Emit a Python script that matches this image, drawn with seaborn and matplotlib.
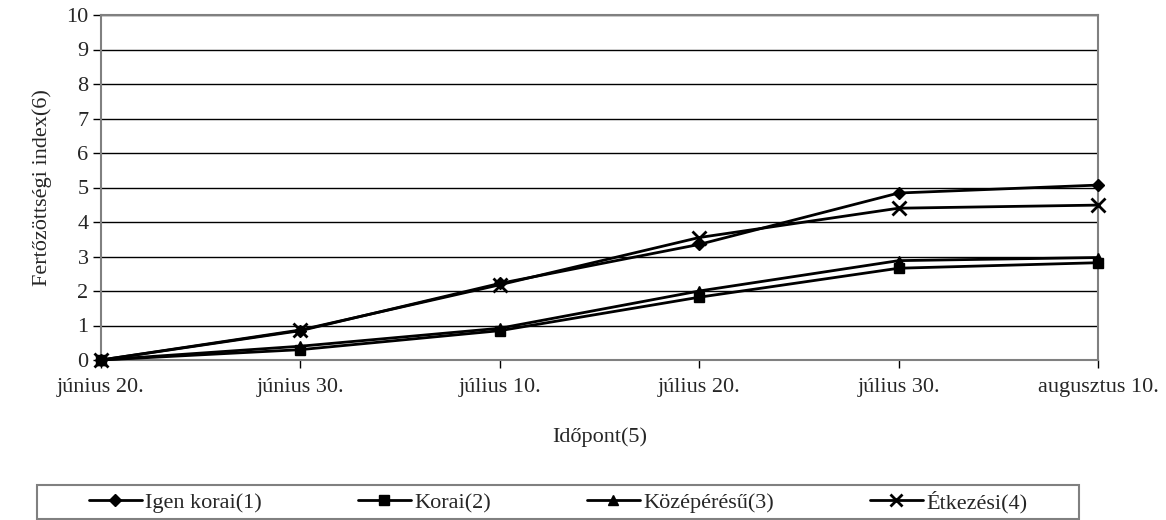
import matplotlib
matplotlib.use("Agg")
import matplotlib.pyplot as plt
from matplotlib.patches import Rectangle
import seaborn as sns
import pandas as pd

# adatok
dates = ["június 20.", "június 30.", "július 10.", "július 20.", "július 30.", "augusztus 10."]
igen_korai = [0, 0.85, 2.22, 3.35, 4.84, 5.07]
korai = [0, 0.30, 0.85, 1.82, 2.66, 2.82]
kozeperesu = [0, 0.40, 0.92, 2.00, 2.88, 2.97]
etkezesi = [0, 0.87, 2.18, 3.55, 4.40, 4.49]

names = ["Igen korai(1)", "Korai(2)", "Középérésű(3)", "Étkezési(4)"]
series = [igen_korai, korai, kozeperesu, etkezesi]
markers = ["D", "s", "^", "x"]

rows = []
for n, vals in zip(names, series):
    for i, v in enumerate(vals):
        rows.append({"pos": i, "ertek": v, "fajta": n})
df = pd.DataFrame(rows)

sns.set_style("white")
plt.rcParams["font.family"] = ["Liberation Serif", "DejaVu Serif"]
FS = 16

fig = plt.figure(figsize=(11.66, 5.2), dpi=100)
ax = fig.add_axes([101 / 1166, 1 - 360 / 520, 997 / 1166, 345 / 520])

sns.lineplot(data=df, x="pos", y="ertek", hue="fajta", style="fajta",
             palette=["black"] * 4, markers=["D", "s", "^", "X"], dashes=False,
             linewidth=2, ax=ax, legend=False)

sizes = {"D": 6, "s": 7, "^": 7, "x": 10}
for line, m in zip(ax.get_lines(), markers):
    line.set_marker(m)
    line.set_markersize(sizes[m])
    line.set_markerfacecolor("black")
    line.set_markeredgecolor("black")
    line.set_markeredgewidth(2 if m == "x" else 1)
    line.set_clip_on(False)
    line.set_zorder(3)

ax.set_xlim(0, 5)
ax.set_ylim(0, 10)
ax.set_xticks(range(len(dates)))
ax.set_xticklabels(dates)
ax.set_yticks(range(0, 11))
ax.yaxis.grid(True, color="black", linewidth=1)
ax.xaxis.grid(False)
ax.set_axisbelow(True)
for s in ["left", "bottom", "top", "right"]:
    ax.spines[s].set_color("#808080")
    ax.spines[s].set_linewidth(1.5)
ax.tick_params(axis="both", direction="out", length=6, color="black", width=1,
               labelsize=FS, bottom=True, left=True)
ax.tick_params(axis="x", pad=7)
ax.tick_params(axis="y", pad=3)
ax.set_xlabel("Időpont(5)", fontsize=FS, labelpad=22)
ax.set_ylabel("Fertőzöttségi index(6)", fontsize=FS, labelpad=10)

# jelmagyarázat keret
fig.patches.append(Rectangle((37 / 1166, 1 - 519 / 520), 1042 / 1166, 34 / 520,
                             transform=fig.transFigure, fill=False,
                             edgecolor="#808080", linewidth=1.5))
handles = [plt.Line2D([], [], color="black", lw=2, marker=m, markersize=ms,
                      markeredgewidth=mew)
           for m, ms, mew in [("D", 6, 1), ("s", 7, 1), ("^", 7, 1), ("x", 9, 2)]]
fig.legend(handles, names, loc="center", ncol=4,
           bbox_to_anchor=(558 / 1166, 1 - 502 / 520), fontsize=FS,
           frameon=False, handlelength=2.4, handletextpad=0.15,
           columnspacing=4.3, borderpad=0, borderaxespad=0)

fig.savefig("out.png", dpi=100)
